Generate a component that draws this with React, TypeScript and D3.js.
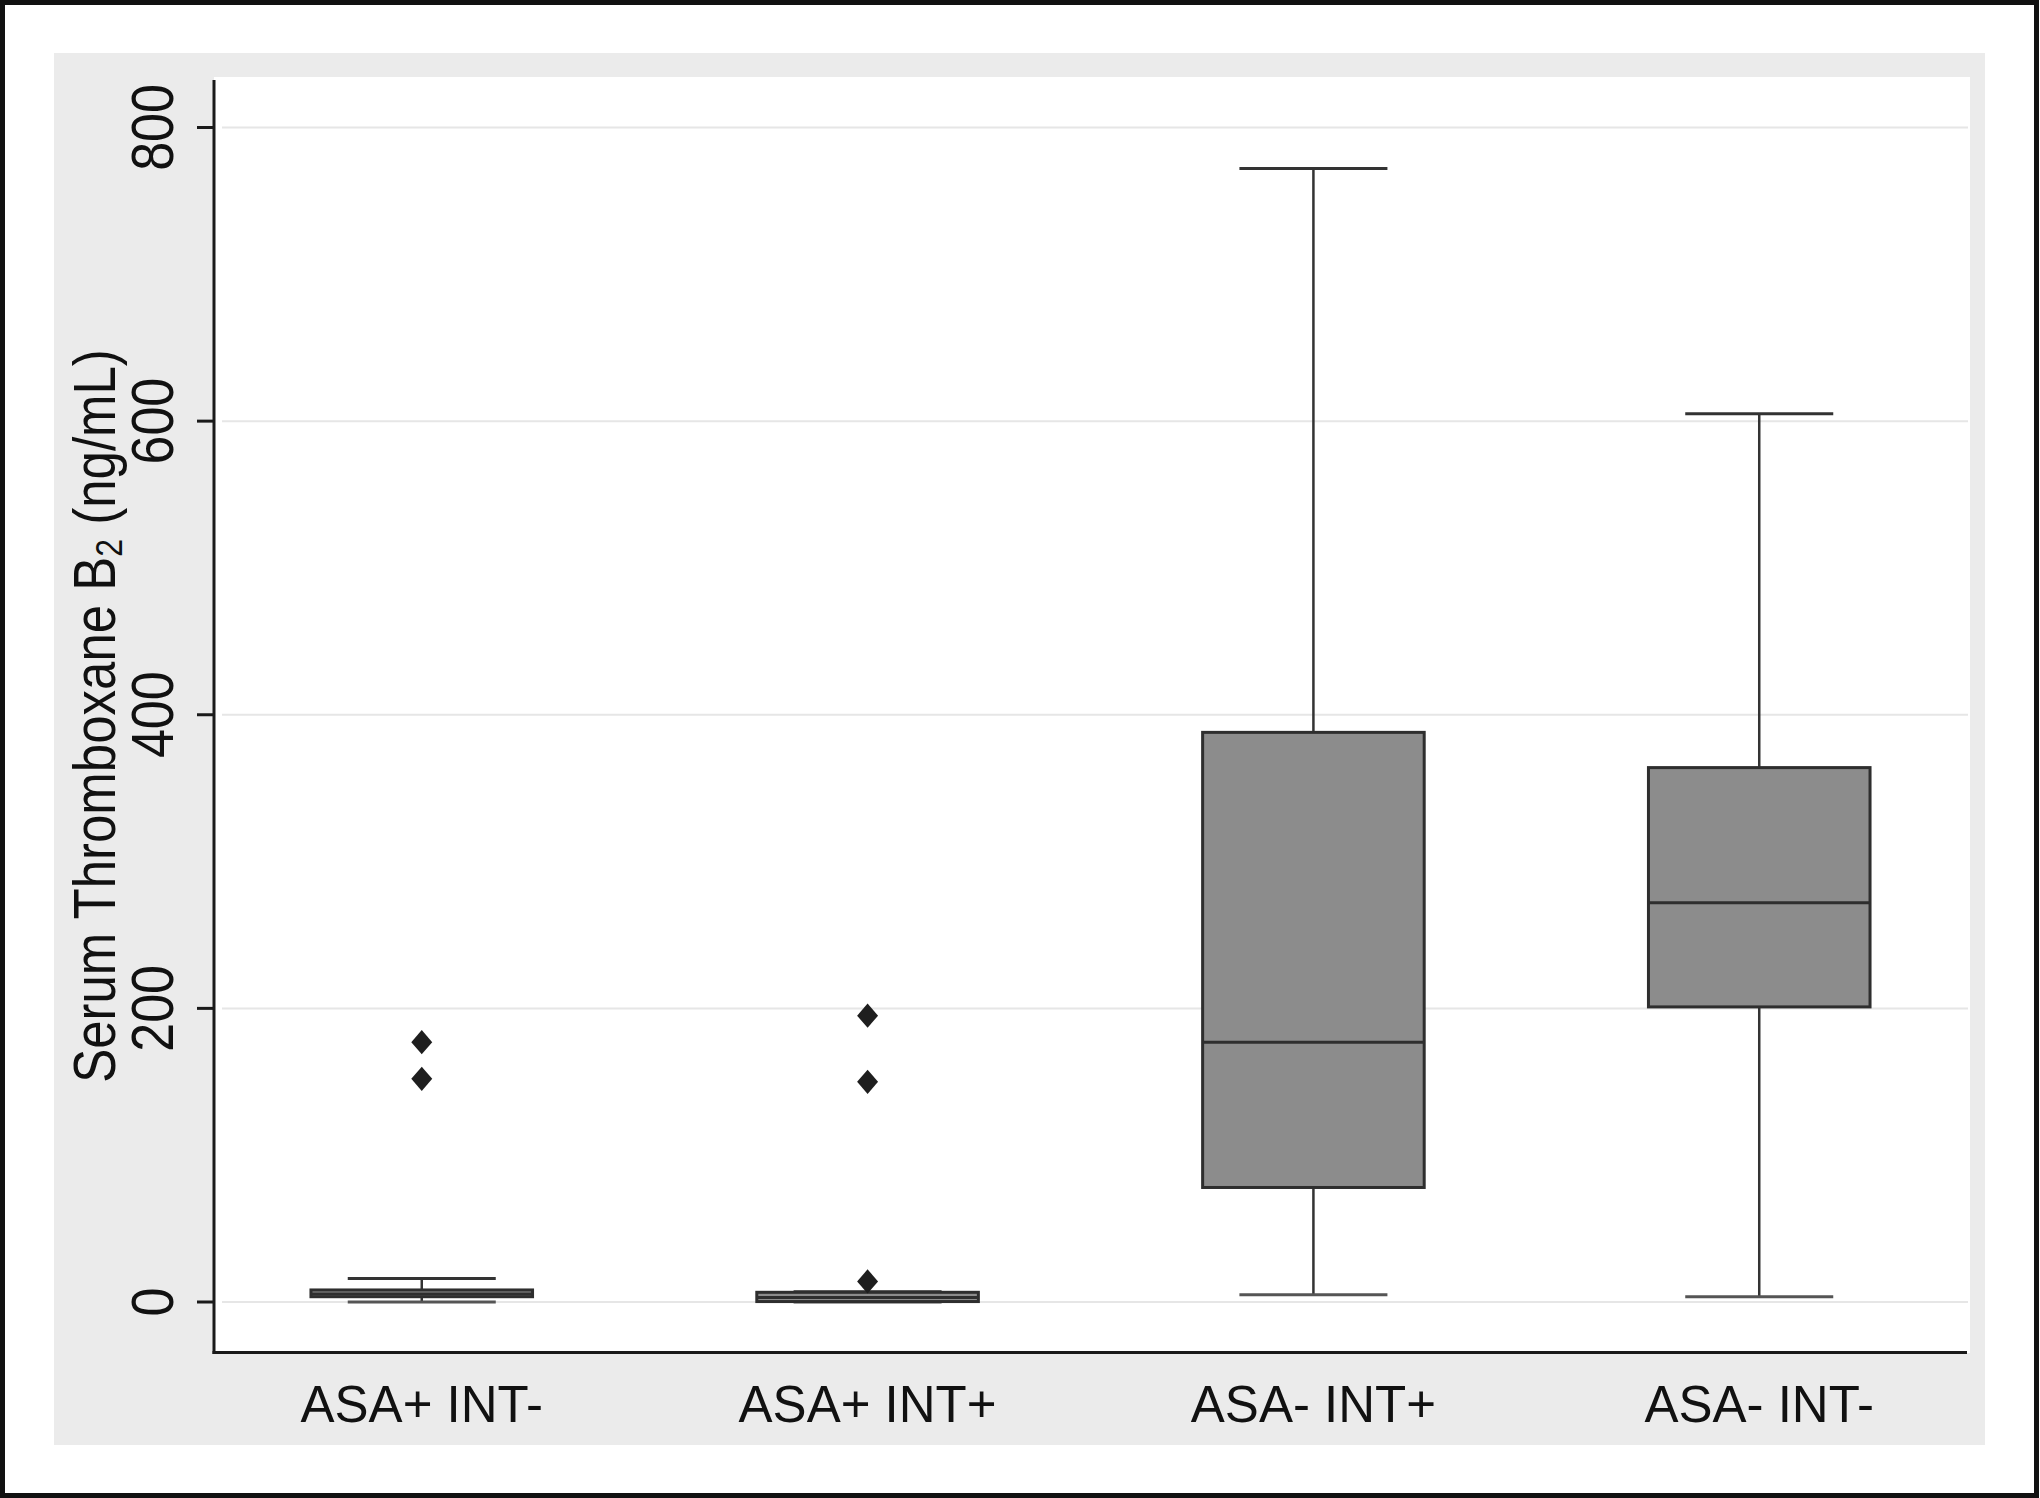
import React from "react";
import * as d3 from "d3";

const categories = ["ASA+ INT-", "ASA+ INT+", "ASA- INT+", "ASA- INT-"];
const lowerWhisker = [0, 0, 5, 3.5];
const q1 = [3.6, 0.3, 78, 201];
const median = [5.5, 3, 177, 272];
const q3 = [8.2, 6.6, 388, 364];
const upperWhisker = [16, 7, 772, 605];
const outliers = [[177, 152], [195, 150, 14], [], []];
const yTicks = [0, 200, 400, 600, 800];

const W = 2040;
const H = 1498;

export default function App() {
  const x = d3.scalePoint<string>().domain(categories).range([214, 1967]).padding(0.466);
  const y = d3.scaleLinear().domain([0, 800]).range([1302, 127.5]);
  const step = x.step();
  const boxW = step * 0.497;
  const capW = step * 0.332;
  const font = "'Liberation Sans', Arial, Helvetica, sans-serif";
  const diamondType = (d3 as any).symbolDiamond2 || d3.symbolDiamond;
  const diamond = d3.symbol().type(diamondType).size(310)();

  return (
    <svg width={W} height={H} style={{ position: "absolute", left: 0, top: 0, background: "#fff" }}>
      <rect x={2.5} y={2.5} width={W - 6} height={H - 5} fill="#fff" stroke="#111" strokeWidth={5} />
      <rect x={54} y={53} width={1931} height={1392} fill="#ebebeb" />
      <rect x={214} y={77} width={1756} height={1276} fill="#fff" />
      {yTicks.map((t) => (
        <line key={"g" + t} x1={222} x2={1968} y1={y(t)} y2={y(t)} stroke="#e6e6e6" strokeWidth={2} />
      ))}
      {categories.map((c, i) => {
        const cx = x(c) as number;
        return (
          <g key={c}>
            <line x1={cx} x2={cx} y1={y(upperWhisker[i])} y2={y(q3[i])} stroke="#333" strokeWidth={2.5} />
            <line x1={cx} x2={cx} y1={y(q1[i])} y2={y(lowerWhisker[i])} stroke="#333" strokeWidth={2.5} />
            <line x1={cx - capW / 2} x2={cx + capW / 2} y1={y(upperWhisker[i])} y2={y(upperWhisker[i])} stroke="#333" strokeWidth={3} />
            <line x1={cx - capW / 2} x2={cx + capW / 2} y1={y(lowerWhisker[i])} y2={y(lowerWhisker[i])} stroke="#555" strokeWidth={3} />
            <rect x={cx - boxW / 2} y={y(q3[i])} width={boxW} height={y(q1[i]) - y(q3[i])} fill="#8c8c8c" stroke="#2e2e2e" strokeWidth={3} />
            <line x1={cx - boxW / 2} x2={cx + boxW / 2} y1={y(median[i])} y2={y(median[i])} stroke="#2e2e2e" strokeWidth={3} />
            {outliers[i].map((v, j) => (
              <path key={j} d={diamond as string} transform={`translate(${cx},${y(v)}) scale(0.95,1.1)`} fill="#1e1e1e" />
            ))}
          </g>
        );
      })}
      <line x1={214} x2={214} y1={80} y2={1354} stroke="#1a1a1a" strokeWidth={3} />
      <line x1={212.5} x2={1967} y1={1352.5} y2={1352.5} stroke="#1a1a1a" strokeWidth={3} />
      {yTicks.map((t) => (
        <g key={"t" + t}>
          <line x1={197} x2={214} y1={y(t)} y2={y(t)} stroke="#1a1a1a" strokeWidth={3} />
          <text
            transform={`translate(173,${y(t)}) rotate(-90) scale(1,1.15)`}
            textAnchor="middle"
            fontFamily={font}
            fontSize={52}
            fill="#111"
          >
            {t}
          </text>
        </g>
      ))}
      {categories.map((c) => (
        <text key={"x" + c} x={x(c) as number} y={1421.5} textAnchor="middle" fontFamily={font} fontSize={51} fill="#111">
          {c}
        </text>
      ))}
      <text
        transform={`translate(115,716) rotate(-90) scale(1,1.15)`}
        textAnchor="middle"
        fontFamily={font}
        fontSize={51}
        fill="#111"
      >
        <tspan>Serum Thromboxane B</tspan>
        <tspan fontSize={32} dy={6}>2</tspan>
        <tspan dy={-6}> (ng/mL)</tspan>
      </text>
    </svg>
  );
}
